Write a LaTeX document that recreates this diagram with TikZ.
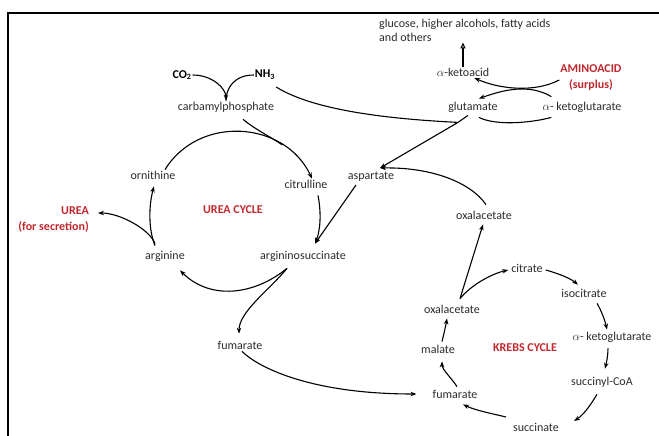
\documentclass[tikz,border=0pt]{standalone}
\usepackage{fontspec}
\setmainfont{Carlito}
\usetikzlibrary{arrows.meta, positioning, calc}
\definecolor{UreaRed}{HTML}{C0272D}
\definecolor{TextGray}{HTML}{2B2B2B}
\tikzset{
    % Node styles
    metabolite/.style={
        inner sep=1pt,
        text=TextGray,
        font=\fontsize{12}{14}\selectfont
    },
    boldmol/.style={
        inner sep=1pt,
        text=black,
        font=\fontsize{12}{14}\selectfont\bfseries
    },
    redlabel/.style={
        inner sep=1pt,
        text=UreaRed,
        font=\fontsize{12}{16}\selectfont\bfseries
    },
    % Arrow styles
    myarrow/.style={
        -{Stealth[length=6pt,width=4.5pt]},
        line width=1.1pt
    },
    plainline/.style={
        line width=1.1pt
    },
    openarrow/.style={
        -{Triangle[open,length=6pt,width=5pt]},
        line width=1.1pt
    }
}
\begin{document}
\begin{tikzpicture}[x=1pt, y=-1pt]
    \useasboundingbox (0,0) rectangle (659,436);
    % Frame
    \draw[line width=2.6pt] (8,436) -- (8,13) -- (659,13);

    % Amino acid surplus
    \node[metabolite, align=left, anchor=west] (products) at (378,30) {glucose, higher alcohols, fatty acids\\and others};
    \node[metabolite] (ketoacid) at (463,72) {$\alpha$-ketoacid};
    \node[redlabel, align=center] (aminoacid) at (591,78) {AMINOACID\\(surplus)};
    \node[metabolite] (glutamate) at (473,107) {glutamate};
    \node[metabolite] (aketoglut) at (582,107) {$\alpha$- ketoglutarate};

    % Urea cycle
    \node[boldmol] (co2) at (182,75) {CO\textsubscript{2}};
    \node[boldmol] (nh3) at (265,75) {NH\textsubscript{3}};
    \node[metabolite] (carbamyl) at (226,107) {carbamylphosphate};
    \node[metabolite] (ornithine) at (153,175) {ornithine};
    \node[metabolite] (citrulline) at (306,184) {citrulline};
    \node[metabolite] (aspartate) at (371,177) {aspartate};
    \node[redlabel] (ureacycle) at (233,210) {UREA CYCLE};
    \node[redlabel, align=right, anchor=east] (urea) at (90,220) {UREA\\(for secretion)};
    \node[metabolite] (arginine) at (165,256) {arginine};
    \node[metabolite] (argsucc) at (303,256) {argininosuccinate};
    \node[metabolite] (fumurea) at (240,345) {fumarate};
    \node[metabolite] (oxalup) at (484,215) {oxalacetate};

    % Krebs cycle
    \node[metabolite] (citrate) at (527,268) {citrate};
    \node[metabolite] (isocitrate) at (584,293) {isocitrate};
    \node[metabolite] (aketoglutk) at (612,337) {$\alpha$- ketoglutarate};
    \node[metabolite] (succoa) at (602,382) {succinyl-CoA};
    \node[metabolite] (succinate) at (536,427) {succinate};
    \node[metabolite] (fumkrebs) at (455,394) {fumarate};
    \node[metabolite] (malate) at (438,349) {malate};
    \node[metabolite] (oxalkrebs) at (452,309) {oxalacetate};
    \node[redlabel] (krebscycle) at (525,348) {KREBS CYCLE};

    % Transamination
    \draw[openarrow] (ketoacid.north) -- (ketoacid.north |- products.south);
    \draw[myarrow] ($(aminoacid.west)+(0,2)$) .. controls +(-25,13) and +(25,11) .. ($(ketoacid.east)+(-16,6)$);
    \draw[myarrow] ($(aketoglut.north west)+(10,-4)$) .. controls +(-22,-13) and +(25,-9) .. ($(glutamate.north east)+(-20,-2)$);
    \draw[plainline] ($(glutamate.south east)+(-20,4)$) .. controls +(18,9) and +(-18,5) .. ($(aketoglut.south west)+(10,4)$);
    \draw[myarrow] ($(glutamate.south)+(-5,2)$) -- ++(-10,7) coordinate (junc) -- ($(aspartate.north)+(9,-3)$);
    \draw[plainline] ($(nh3.south east)+(0,6)$) .. controls +(40,25) and +(-60,-3) .. (junc);

    % Carbamylphosphate
    \draw[myarrow] (co2.east) .. controls +(20,0) and +(0,-12) .. (carbamyl.north);
    \draw[plainline] (nh3.west) .. controls +(-20,0) and +(0,-12) .. (carbamyl.north);

    % Urea cycle arcs
    \draw[myarrow] ($(ornithine.north)+(12,0)$) .. controls +(34,-55) and +(-27,-58) .. ($(citrulline.north)+(6,0)$) coordinate[pos=0.75] (arcjoin);
    \draw[plainline] ($(carbamyl.south)+(17,6)$) .. controls +(12,10) and +(-10,-7) .. (arcjoin);
    \draw[myarrow] ($(citrulline.south)+(12,6)$) .. controls +(3,15) and +(6,-15) .. ($(argsucc.north)+(12,-6)$);
    \draw[myarrow] ($(argsucc.south)+(-16,6)$) .. controls +(-33,27) and +(30,30) .. ($(arginine.south)+(15,8)$);
    \draw[myarrow] ($(arginine.north)+(-10,-4)$) .. controls +(-7,-17) and +(-5,18) .. ($(ornithine.south)+(1,6)$);
    \draw[myarrow] ($(arginine.north)+(-10,-6)$) .. controls +(-5,-14) and +(22,0) .. ($(urea.east)+(8,-7)$);
    \draw[myarrow] ($(aspartate.south)+(-15,2)$) -- ($(argsucc.north)+(12,-6)$);
    \draw[myarrow] ($(argsucc.south)+(-16,6)$) .. controls +(-17,21) and +(0,-22) .. ($(fumurea.north)+(-1,-6)$);
    \draw[myarrow] ($(fumurea.south)+(2,1)$) .. controls +(16,16) and +(-106,0) .. ($(fumkrebs.west)+(-15,0)$);

    % Oxalacetate to aspartate
    \draw[myarrow] ($(oxalup.north)+(2,-5)$) .. controls +(-16,-23) and +(50,-1) .. ($(aspartate.north)+(9,-3)$);
    \draw[myarrow] ($(oxalkrebs.north)+(8,-5)$) -- ($(oxalup.south)+(-1,4)$);

    % Krebs cycle arcs
    \draw[myarrow] ($(oxalkrebs.north)+(8,-5)$) .. controls +(11,-13.5) and +(-17,4) .. ($(citrate.west)+(-2,2)$);
    \draw[myarrow] ($(citrate.east)+(2,2)$) .. controls +(10.5,3) and +(-8.5,-7) .. ($(isocitrate.north)+(-6,-3)$);
    \draw[myarrow] ($(isocitrate.south)+(13,5)$) .. controls +(4.6,7.7) and +(-2,-9) .. ($(aketoglutk.north)+(-5,-1)$);
    \draw[myarrow] ($(aketoglutk.south)+(-4,5)$) .. controls +(0,7) and +(1.6,-6.6) .. ($(succoa.north)+(3,-7)$);
    \draw[myarrow] ($(succoa.south)+(-5,6)$) .. controls +(-6,10) and +(10,-6.5) .. ($(succinate.east)+(14,-6)$);
    \draw[myarrow] ($(succinate.west)+(-6,-10)$) .. controls +(-12,-3) and +(12,6) .. ($(fumkrebs.south)+(8,5)$);
    \draw[myarrow] ($(fumkrebs.north)+(2,-2)$) .. controls +(-5,-8) and +(0,8) .. ($(malate.south)+(4,7)$);
    \draw[myarrow] ($(malate.north)+(4,-2)$) .. controls +(2,-8) and +(-1,6) .. ($(oxalkrebs.south)+(-5,4)$);
\end{tikzpicture}
\end{document}
